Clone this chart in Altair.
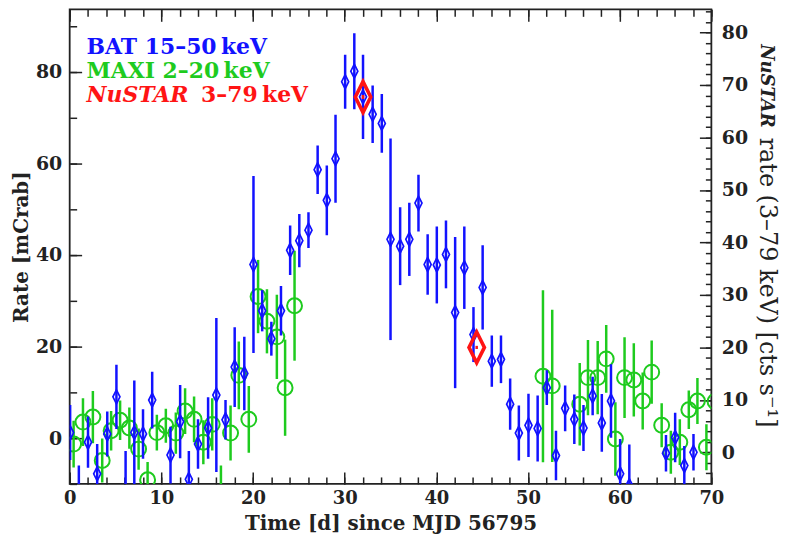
import altair as alt
import pandas as pd

# ---------------- data ----------------
bat_t = [0.05, 1.0, 2.0, 3.0, 4.1, 5.1, 6.1, 7.05, 8.0, 9.0, 11.0, 12.05, 13.0, 14.0,
         15.1, 16.0, 17.0, 18.0, 19.05, 20.05, 21.0, 22.0, 23.05, 24.05, 25.05, 26.05,
         27.05, 28.05, 29.0, 30.05, 31.05, 32.0, 33.05, 34.05, 35.0, 36.05, 37.05, 38.05,
         39.05, 40.05, 41.05, 42.05, 43.05, 44.05, 45.05, 46.05, 47.05, 48.05, 49.0, 50.05,
         51.05, 52.05, 53.05, 54.05, 55.05, 56.05, 57.05, 58.05, 59.05, 60.05, 61.05,
         65.05, 66.05, 67.05, 68.05]
bat_rate = [1.2, -15.0, -0.9, -7.8, 0.9, 9.0, -12.0, 1.2, 0.9, 8.3, -3.7, 3.6, -9.0, -1.3,
            2.2, 9.4, 4.0, 15.5, 14.1, 37.9, 27.8, 21.7, 27.8, 41.0, 43.1, 45.4,
            58.6, 51.9, 61.0, 77.8, 80.1, 74.5, 70.7, 68.7, 43.4, 41.9, 43.4, 51.3,
            37.9, 37.8, 40.1, 27.4, 37.2, 22.6, 32.9, 16.8, 17.2, 7.4, 1.1, 2.8,
            2.1, 11.0, -3.8, 6.5, 4.1, 2.2, 9.2, 3.3, 8.1, -7.8, -10.4,
            -3.3, 0.15, -6.0, -3.1]
bat_err = [6.0, 9.0, 5.6, 6.5, 4.9, 7.0, 9.2, 11.4, 5.4, 6.2, 6.2, 8.0, 6.2, 5.4,
           6.7, 16.8, 4.3, 8.7, 8.0, 19.3, 4.5, 3.7, 5.4, 5.4, 5.8, 3.9,
           5.3, 7.6, 9.6, 5.9, 8.3, 9.2, 6.3, 6.4, 22.0, 8.5, 8.0, 6.2,
           6.6, 8.4, 7.4, 16.5, 9.0, 6.0, 9.2, 5.6, 5.2, 5.6, 6.0, 6.9,
           7.2, 3.8, 5.4, 5.0, 5.4, 5.0, 4.2, 6.3, 8.0, 7.6, 9.0,
           4.0, 5.4, 4.3, 4.0]

maxi_t = [0.43, 1.45, 2.53, 3.55, 4.52, 5.5, 6.51, 7.52, 8.5, 9.51, 10.49, 11.58, 12.59,
          13.57, 14.58, 15.55, 16.5, 17.55, 18.45, 19.54, 20.55, 21.52, 22.6, 23.5, 24.53,
          51.63, 52.64, 55.64, 56.54, 57.6, 58.53, 59.53, 60.53, 61.54, 62.51, 63.49,
          64.58, 65.58, 66.56, 67.54, 68.48, 69.46, 70.4]
maxi_rate = [-1.3, 3.5, 4.6, -4.9, 1.6, 3.9, 2.2, -2.4, -9.1, 1.2, 2.7, 1.1, 5.9,
             4.1, -0.9, 3.0, -12.0, 1.1, 13.7, 4.1, 30.9, 25.5, 22.1, 11.0, 28.9,
             13.5, 11.4, 7.4, 13.2, 13.2, 17.3, -0.2, 13.2, 12.7, 8.1, 14.4,
             2.8, -3.1, -0.9, 6.2, 8.1, -2.0, 8.0]
maxi_err = [5.1, 5.2, 5.7, 4.8, 4.3, 4.3, 4.5, 4.5, 3.9, 3.9, 3.7, 4.5, 5.0,
            5.0, 4.8, 5.7, 6.0, 6.0, 7.4, 7.3, 8.0, 7.0, 9.2, 10.5, 12.0,
            18.8, 16.6, 9.0, 8.2, 8.0, 7.4, 8.0, 8.8, 8.0, 6.2, 6.9,
            4.8, 4.7, 5.0, 4.2, 5.0, 5.0, 5.0]

nustar_t = [32.0, 44.4]
nustar_rate = [67.7, 20.0]
nustar_err = [0.4, 0.3]

x_major = [0, 10, 20, 30, 40, 50, 60, 70]
x_minor = list(range(0, 71, 2))
left_major = [0, 20, 40, 60, 80]
left_minor = [-10, 0, 10, 20, 30, 40, 50, 60, 70, 80, 90]
right_major = [0, 10, 20, 30, 40, 50, 60, 70, 80]
right_minor = list(range(-4, 85, 2))

x_title = "Time [d] since MJD 56795"
y_title = "Rate [mCrab]"
legend_labels = ["BAT 15–50\u2009keV", "MAXI 2–20\u2009keV", "NuSTAR", "3–79\u2009keV"]
right_title = ["NuSTAR", "rate (3–79 keV) [cts s⁻¹]"]

# ---------------- styling ----------------
BLUE = "#1212ff"
GREEN = "#1ecb1e"
RED = "#ff1414"
INK = "#222222"
FONT = "DejaVu Serif"
DIAMOND = "M0,-1L0.5,0L0,1L-0.5,0Z"
BIG_DIAMOND = "M0,-1L0.5,0L0,1L-0.5,0Z"

bat = pd.DataFrame({"t": bat_t, "rate": bat_rate, "err": bat_err})
bat["lo"] = bat["rate"] - bat["err"]
bat["hi"] = bat["rate"] + bat["err"]
maxi = pd.DataFrame({"t": maxi_t, "rate": maxi_rate, "err": maxi_err})
maxi["lo"] = maxi["rate"] - maxi["err"]
maxi["hi"] = maxi["rate"] + maxi["err"]
nu = pd.DataFrame({"t": nustar_t, "rate": nustar_rate, "err": nustar_err})
nu["lo"] = nu["rate"] - nu["err"]
nu["hi"] = nu["rate"] + nu["err"]

xs = alt.Scale(domain=[0, 70], nice=False, zero=False)
ls = alt.Scale(domain=[-10, 93.6], nice=False, zero=False)
rs = alt.Scale(domain=[-6, 84.4], nice=False, zero=False)


def ax(**kw):
    base = dict(grid=False, domain=False, tickColor=INK, tickWidth=1.5,
                labelFont=FONT, labelFontWeight="bold", labelFontSize=19,
                labelColor=INK, labelFlush=False, titleFont=FONT,
                titleFontWeight="bold", titleFontSize=21, titleColor=INK, title=None)
    base.update(kw)
    return alt.Axis(**base)


x_main = ax(orient="bottom", values=x_major, tickSize={"expr": "-12"}, labelPadding=18,
            labelFontSize=18,
            title=x_title, titleX=322.5, titleY=46, titleBaseline="alphabetic",
            titleAlign="center", titleAngle=0, titleFontSize=20)
x_bot_minor = ax(orient="bottom", values=x_minor, tickSize={"expr": "-7"}, labels=False)
x_top_major = ax(orient="top", values=x_major, tickSize={"expr": "-12"}, labels=False)
x_top_minor = ax(orient="top", values=x_minor, tickSize={"expr": "-7"}, labels=False)
y_left_main = ax(orient="left", values=left_major, tickSize={"expr": "-12"}, labelPadding=20,
                 title=y_title, titleX=-42, titleY=238.5, titleAngle=270,
                 titleBaseline="alphabetic", titleAlign="center", titleFontSize=20)
y_left_minor = ax(orient="left", values=left_minor, tickSize={"expr": "-7"}, labels=False)
y_right_main = ax(orient="right", values=right_major, tickSize={"expr": "-12"}, labelPadding=22)
y_right_minor = ax(orient="right", values=right_minor, tickSize={"expr": "-6"}, labels=False)

maxi_rules = alt.Chart(maxi).mark_rule(color=GREEN, strokeWidth=2.5, clip=True).encode(
    x=alt.X("t:Q", scale=xs, axis=x_main),
    y=alt.Y("lo:Q", scale=ls, axis=y_left_main),
    y2="hi:Q",
)
maxi_pts = alt.Chart(maxi).mark_point(shape="circle", size=225, filled=False, strokeWidth=2,
                                      color=GREEN, opacity=1, clip=True).encode(
    x=alt.X("t:Q", scale=xs, axis=x_bot_minor),
    y=alt.Y("rate:Q", scale=ls, axis=y_left_minor),
)
bat_rules = alt.Chart(bat).mark_rule(color=BLUE, strokeWidth=2.5, clip=True).encode(
    x=alt.X("t:Q", scale=xs, axis=x_top_major),
    y=alt.Y("lo:Q", scale=ls, axis=None),
    y2="hi:Q",
)
bat_pts = alt.Chart(bat).mark_point(shape=DIAMOND, size=200, filled=False, strokeWidth=1.7,
                                    color=BLUE, fill="white", fillOpacity=0, opacity=1,
                                    clip=True).encode(
    x=alt.X("t:Q", scale=xs, axis=x_top_minor),
    y=alt.Y("rate:Q", scale=ls, axis=None),
)
nu_rules = alt.Chart(nu).mark_rule(color=RED, strokeWidth=2.5, clip=True).encode(
    x=alt.X("t:Q", scale=xs, axis=None),
    y=alt.Y("lo:Q", scale=rs, axis=y_right_main),
    y2="hi:Q",
)
nu_pts = alt.Chart(nu).mark_point(shape=BIG_DIAMOND, size=961, filled=False, strokeWidth=3.6,
                                  color=RED, opacity=1, clip=True).encode(
    x=alt.X("t:Q", scale=xs, axis=None),
    y=alt.Y("rate:Q", scale=rs, axis=y_right_minor),
)


def label(text, color, x, y, size=22, style="normal", weight="bold", angle=0):
    return alt.Chart(pd.DataFrame({"label": [text]})).mark_text(
        x=x, y=y, align="left", baseline="alphabetic", font=FONT, fontSize=size,
        fontWeight=weight, fontStyle=style, color=color, angle=angle,
    ).encode(text="label:N")


leg_bat = label(legend_labels[0], BLUE, 17, 45)
leg_maxi = label(legend_labels[1], GREEN, 17, 69)
leg_nu1 = label(legend_labels[2], RED, 17, 93, style="italic")
leg_nu2 = label(legend_labels[3], RED, 132, 93)

rt1 = label(right_title[0], INK, 695, 35, size=18, style="italic", angle=90)
rt2 = label(right_title[1], INK, 694, 129, size=24, weight="normal", angle=90)

chart = alt.layer(
    maxi_rules, maxi_pts, bat_rules, bat_pts, nu_rules, nu_pts,
    leg_bat, leg_maxi, leg_nu1, leg_nu2, rt1, rt2,
).resolve_scale(
    y="independent"
).resolve_axis(
    x="independent", y="independent"
).properties(
    width=645, height=477,
    autosize=alt.AutoSizeParams(type="none"),
    padding={"left": 62, "top": 0, "right": 70, "bottom": 51},
).configure_view(
    stroke=INK, strokeWidth=1.8
)

chart.save("out.html", embed_options={"renderer": "svg", "actions": False})
